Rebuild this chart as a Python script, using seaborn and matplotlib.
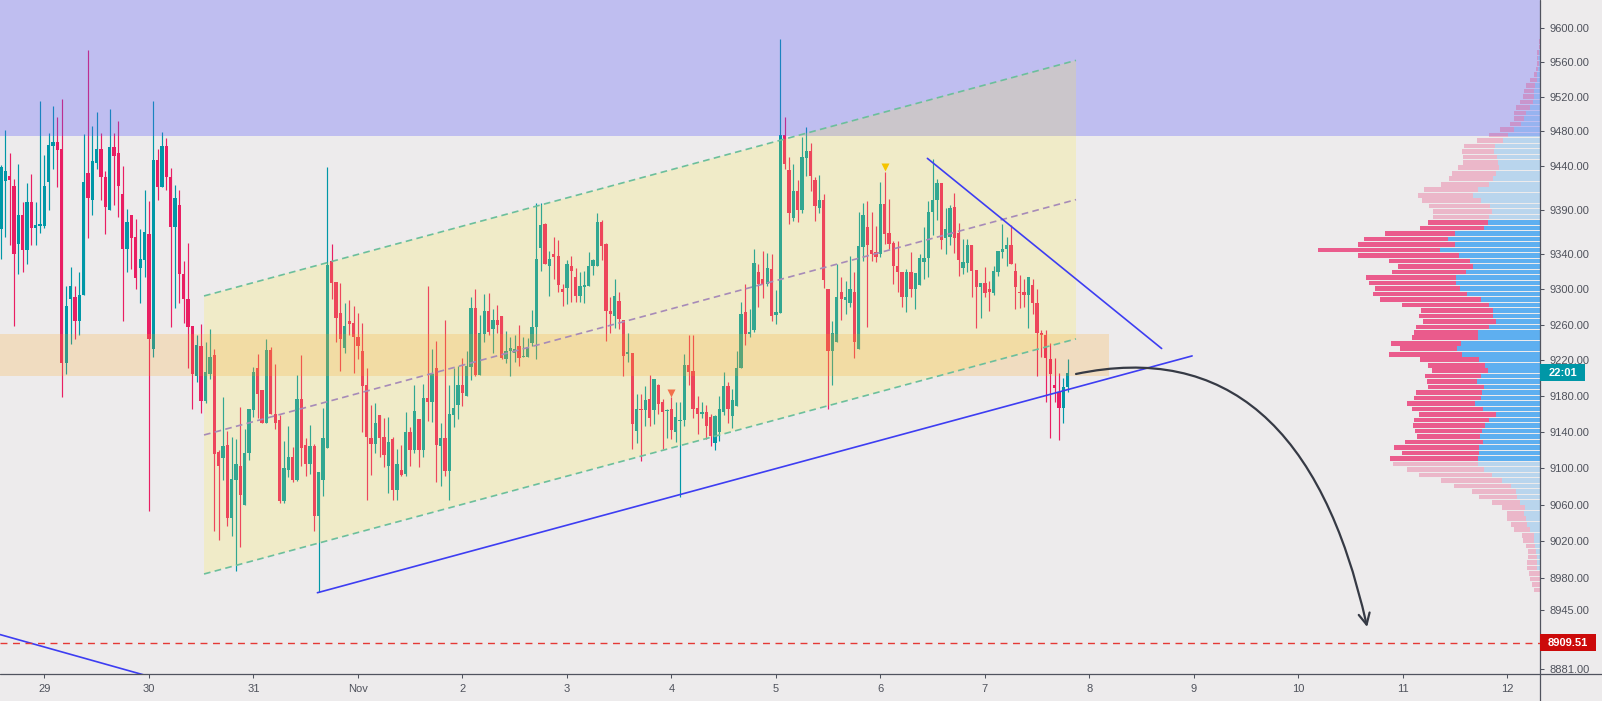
import numpy as np
import pandas as pd
import matplotlib
matplotlib.use("Agg")
import matplotlib.pyplot as plt
import seaborn as sns
from matplotlib.path import Path
from matplotlib.patches import FancyArrowPatch, Polygon, Rectangle
from matplotlib.lines import Line2D
from matplotlib.colors import to_rgba
from matplotlib.ticker import FixedLocator, NullLocator, FixedFormatter

sns.set_theme(style="white")
plt.rcParams["font.family"] = ["Liberation Sans", "DejaVu Sans"]

# ---------------- data (hourly BTC candles, starting 2019-10-28 14:00) ----------------
start = pd.Timestamp("2019-10-28 14:00")

opens = [9368, 9423, 9429, 9417, 9351, 9384, 9344, 9399, 9369, 9372,
         9372, 9422, 9463, 9468, 9460, 9217, 9289, 9291, 9264, 9294,
         9432, 9401, 9444, 9460, 9427, 9390, 9462, 9455, 9408, 9346,
         9384, 9359, 9324, 9333, 9362, 9233, 9447, 9416, 9463, 9428,
         9370, 9396, 9317, 9289, 9259, 9202, 9236, 9175, 9205, 9226,
         9118, 9111, 9126, 9045, 9087, 9103, 9060, 9117, 9165, 9212,
         9187, 9150, 9232, 9160, 9153, 9064, 9098, 9112, 9087, 9177,
         9126, 9105, 9125, 9048, 9087, 9123, 9332, 9308, 9273, 9234,
         9264, 9262, 9246, 9230, 9192, 9134, 9127, 9159, 9135, 9103,
         9132, 9076, 9098, 9094, 9140, 9120, 9155, 9120, 9178, 9174,
         9211, 9125, 9133, 9097, 9159, 9170, 9192, 9180, 9213, 9279,
         9204, 9250, 9276, 9255, 9265, 9270, 9221, 9231, 9228, 9236,
         9224, 9224, 9240, 9257, 9347, 9374, 9326, 9340, 9338, 9300,
         9301, 9326, 9314, 9292, 9303, 9304, 9326, 9326, 9376, 9351,
         9276, 9270, 9287, 9265, 9227, 9228, 9141, 9166, 9165, 9177,
         9165, 9193, 9174, 9163, 9166, 9140, 9152, 9153, 9215, 9208,
         9167, 9160, 9162, 9157, 9128, 9140, 9162, 9191, 9158, 9169,
         9212, 9274, 9250, 9254, 9320, 9312, 9306, 9323, 9271, 9273,
         9476, 9435, 9381, 9412, 9390, 9449, 9457, 9424, 9392, 9401,
         9300, 9230, 9241, 9297, 9288, 9285, 9297, 9233, 9348, 9371,
         9344, 9342, 9340, 9397, 9364, 9352, 9326, 9320, 9291, 9320,
         9300, 9305, 9331, 9335, 9388, 9401, 9421, 9358, 9359, 9393,
         9364, 9324, 9330, 9350, 9322, 9303, 9307, 9300, 9296, 9320,
         9342, 9346, 9350, 9321, 9297, 9297, 9294, 9305, 9285, 9251,
         9249, 9221, 9192, 9185, 9167, 9190]

highs = [9441, 9481, 9455, 9425, 9442, 9399, 9421, 9431, 9399, 9515,
         9453, 9478, 9509, 9496, 9517, 9304, 9325, 9304, 9319, 9477,
         9574, 9486, 9502, 9478, 9434, 9506, 9478, 9492, 9440, 9391,
         9384, 9380, 9368, 9413, 9400, 9515, 9460, 9479, 9472, 9438,
         9418, 9413, 9332, 9352, 9259, 9248, 9261, 9241, 9255, 9233,
         9120, 9179, 9141, 9135, 9132, 9168, 9143, 9166, 9213, 9227,
         9187, 9244, 9235, 9216, 9159, 9130, 9147, 9124, 9204, 9226,
         9133, 9148, 9127, 9096, 9167, 9439, 9351, 9308, 9307, 9285,
         9288, 9281, 9273, 9262, 9211, 9170, 9172, 9159, 9156, 9157,
         9135, 9121, 9126, 9162, 9146, 9192, 9155, 9194, 9304, 9233,
         9242, 9150, 9265, 9192, 9212, 9214, 9223, 9230, 9291, 9300,
         9271, 9295, 9296, 9278, 9282, 9270, 9253, 9246, 9248, 9260,
         9246, 9245, 9277, 9398, 9398, 9375, 9343, 9359, 9356, 9306,
         9333, 9338, 9324, 9320, 9321, 9342, 9334, 9386, 9379, 9352,
         9291, 9311, 9297, 9265, 9251, 9228, 9183, 9182, 9191, 9204,
         9199, 9194, 9177, 9166, 9179, 9173, 9173, 9227, 9249, 9249,
         9180, 9173, 9170, 9160, 9159, 9180, 9207, 9196, 9188, 9230,
         9286, 9306, 9278, 9346, 9328, 9343, 9341, 9340, 9299, 9587,
         9496, 9450, 9442, 9424, 9474, 9485, 9467, 9428, 9430, 9408,
         9300, 9264, 9328, 9314, 9309, 9338, 9320, 9388, 9398, 9400,
         9388, 9372, 9422, 9433, 9402, 9355, 9355, 9320, 9323, 9342,
         9318, 9340, 9371, 9400, 9448, 9425, 9421, 9392, 9396, 9409,
         9375, 9357, 9357, 9350, 9322, 9307, 9325, 9309, 9326, 9343,
         9374, 9359, 9373, 9330, 9316, 9311, 9314, 9311, 9300, 9254,
         9254, 9239, 9223, 9206, 9200, 9222]

lows = [9334, 9359, 9350, 9259, 9317, 9319, 9329, 9350, 9350, 9364,
        9369, 9390, 9437, 9416, 9179, 9205, 9238, 9244, 9248, 9294,
        9358, 9384, 9437, 9401, 9362, 9390, 9395, 9382, 9264, 9319,
        9323, 9300, 9284, 9314, 9053, 9224, 9401, 9416, 9413, 9258,
        9279, 9285, 9262, 9212, 9166, 9196, 9161, 9172, 9199, 9031,
        9021, 9087, 9037, 9026, 8987, 9014, 9060, 9109, 9157, 9156,
        9150, 9150, 9160, 9143, 9062, 9062, 9090, 9085, 9086, 9102,
        9091, 9094, 9031, 8964, 9070, 9123, 9289, 9241, 9208, 9228,
        9248, 9206, 9221, 9140, 9065, 9093, 9117, 9113, 9101, 9073,
        9065, 9065, 9092, 9092, 9102, 9117, 9101, 9112, 9152, 9151,
        9085, 9080, 9091, 9065, 9146, 9155, 9169, 9180, 9198, 9203,
        9204, 9241, 9249, 9228, 9251, 9221, 9217, 9202, 9218, 9214,
        9224, 9224, 9236, 9221, 9321, 9329, 9292, 9311, 9297, 9281,
        9283, 9286, 9286, 9286, 9285, 9304, 9316, 9326, 9333, 9242,
        9251, 9256, 9255, 9202, 9218, 9121, 9128, 9108, 9147, 9147,
        9149, 9160, 9121, 9134, 9132, 9129, 9068, 9147, 9192, 9156,
        9138, 9156, 9132, 9125, 9120, 9130, 9159, 9150, 9145, 9169,
        9212, 9237, 9246, 9252, 9280, 9290, 9304, 9264, 9261, 9273,
        9437, 9374, 9377, 9376, 9387, 9429, 9412, 9377, 9387, 9301,
        9166, 9193, 9241, 9265, 9272, 9280, 9223, 9233, 9332, 9257,
        9332, 9331, 9336, 9351, 9346, 9306, 9297, 9280, 9274, 9291,
        9278, 9305, 9311, 9314, 9361, 9379, 9346, 9340, 9350, 9341,
        9315, 9317, 9320, 9291, 9256, 9268, 9291, 9275, 9293, 9315,
        9335, 9326, 9329, 9278, 9279, 9280, 9256, 9272, 9202, 9224,
        9174, 9133, 9174, 9131, 9150, 9185]

closes = [9439, 9434, 9424, 9340, 9384, 9344, 9399, 9369, 9373, 9374,
          9417, 9464, 9468, 9459, 9217, 9281, 9304, 9264, 9294, 9422,
          9404, 9446, 9460, 9427, 9393, 9462, 9452, 9417, 9345, 9376,
          9358, 9313, 9334, 9365, 9244, 9447, 9416, 9463, 9427, 9370,
          9404, 9317, 9289, 9257, 9205, 9237, 9175, 9207, 9224, 9116,
          9102, 9125, 9045, 9088, 9105, 9071, 9117, 9166, 9207, 9183,
          9150, 9232, 9160, 9150, 9064, 9100, 9112, 9087, 9177, 9123,
          9105, 9125, 9048, 9096, 9133, 9327, 9307, 9268, 9244, 9259,
          9261, 9246, 9236, 9191, 9135, 9127, 9150, 9134, 9115, 9129,
          9076, 9105, 9093, 9140, 9120, 9163, 9120, 9178, 9173, 9205,
          9126, 9133, 9097, 9160, 9167, 9192, 9184, 9214, 9279, 9204,
          9251, 9276, 9252, 9265, 9260, 9223, 9231, 9234, 9233, 9223,
          9225, 9235, 9258, 9334, 9373, 9329, 9334, 9337, 9305, 9297,
          9328, 9321, 9292, 9304, 9305, 9326, 9333, 9376, 9349, 9275,
          9272, 9292, 9266, 9225, 9229, 9149, 9166, 9165, 9176, 9156,
          9199, 9171, 9162, 9164, 9142, 9157, 9153, 9215, 9207, 9166,
          9160, 9162, 9147, 9136, 9158, 9166, 9191, 9166, 9176, 9212,
          9272, 9250, 9252, 9330, 9306, 9306, 9324, 9270, 9274, 9476,
          9442, 9387, 9412, 9390, 9450, 9457, 9429, 9394, 9401, 9310,
          9230, 9251, 9291, 9289, 9291, 9300, 9241, 9349, 9384, 9350,
          9340, 9337, 9397, 9363, 9351, 9326, 9320, 9291, 9320, 9300,
          9318, 9335, 9335, 9388, 9401, 9421, 9356, 9368, 9392, 9358,
          9333, 9331, 9350, 9321, 9303, 9307, 9296, 9297, 9321, 9343,
          9346, 9350, 9329, 9302, 9296, 9294, 9314, 9284, 9251, 9248,
          9223, 9205, 9189, 9167, 9190, 9206]

# volume profile rows (top -> bottom), up / down volume (relative units)
vp_up = [0, 0, 3, 5, 4, 5, 9, 9, 15, 17,
         17, 22, 29, 41, 47, 57, 77, 95, 112, 134,
         139, 129, 125, 124, 132, 142, 152, 187, 200, 177,
         151, 144, 152, 155, 167, 255, 275, 255, 299, 244,
         209, 201, 222, 253, 252, 239, 219, 177, 154, 142,
         140, 131, 154, 186, 186, 238, 249, 234, 184, 165,
         157, 178, 189, 169, 173, 176, 194, 172, 131, 153,
         165, 173, 180, 172, 184, 182, 187, 187, 167, 144,
         115, 87, 71, 69, 59, 46, 48, 42, 39, 30,
         17, 17, 15, 11, 9, 9, 9, 0, 0, 0, 0]
vp_down = [4, 4, 6, 4, 5, 6, 8, 21, 27, 30,
           34, 38, 43, 38, 30, 34, 42, 57, 77, 93,
           95, 101, 105, 122, 131, 131, 145, 162, 167, 178,
           182, 176, 170, 181, 194, 210, 252, 292, 367, 301,
           245, 226, 223, 268, 260, 256, 281, 302, 259, 215,
           224, 221, 219, 192, 199, 209, 172, 218, 177, 172,
           167, 168, 150, 167, 199, 202, 205, 211, 232, 225,
           215, 202, 189, 233, 253, 232, 263, 254, 231, 219,
           183, 170, 134, 114, 85, 69, 52, 58, 49, 47,
           38, 35, 26, 24, 28, 30, 30, 33, 31, 25, 19]
vp_row_top_price = 9583.7
vp_row_bottom_price = 8966.5
va_first_row, va_last_row = 33, 76

# drawings (bar offsets in hours from start, prices)
supply_low = 9474.6
demand_zone = (9202.6, 9249.3)
demand_zone_end = 254.6
chan_t = [46.66, 246.93]
chan_upper = [9292.4, 9562.0]
chan_lower = [8984.0, 9244.1]
support_t, support_p = [72.7, 273.6], [8963.6, 9225.0]
resist_t, resist_p = [212.8, 266.6], [9448.9, 9233.3]
old_t, old_p = [-0.2, 40.0], [8918.2, 8865.2]
target_price = 8909.51
arrow_t = [246.93, 298.4, 313.8]
arrow_p = [9204.8, 9257.4, 8926.4]
marker_red = (154, 9184.0)
marker_yellow = (203, 9438.7)
countdown = "22:01"

price_ticks = [9600, 9560, 9520, 9480, 9440, 9390, 9340, 9300, 9260, 9220,
               9180, 9140, 9100, 9060, 9020, 8980, 8945, 8881]
day_labels = ["29", "30", "31", "Nov", "2", "3", "4", "5", "6", "7", "8", "9",
              "10", "11", "12"]
days = pd.date_range("2019-10-29", periods=len(day_labels), freq="D")

# ---------------- styling ----------------
BG = "#edebec"
AX = "#50535e"
TXT = "#4f525c"
UP = "#0097a7"
DN = "#e91e63"

W, H = 1602, 701
fig = plt.figure(figsize=(W / 100, H / 100), dpi=100, facecolor=BG)
ax = fig.add_axes([0, 27 / H, 1540 / W, 674 / H])
ax.set_facecolor(BG)
ax.set_yscale("log")
for s in ax.spines.values():
    s.set_visible(False)

o = np.array(opens, float)
c = np.array(closes, float)
h = np.array(highs, float)
l = np.array(lows, float)
xs = np.arange(len(o))
col = np.where(c >= o, UP, DN)

# candles
ax.vlines(xs, l, h, colors=col, lw=0.85, zorder=2)
ax.bar(xs, np.maximum(np.abs(c - o), 1.2), bottom=np.minimum(o, c), width=0.76,
       color=col, lw=0, zorder=2.1)
ax.plot(*marker_red, marker="v", ms=6, color="#ef5350", mec="none", zorder=2.5)

# supply zone (purple)
ax.axhspan(supply_low, 9800, color="#5758fc", alpha=0.3, lw=0, zorder=3)

# channel
chan_mid = list(np.sqrt(np.array(chan_upper) * np.array(chan_lower)))
ax.add_patch(Polygon([(chan_t[0], chan_upper[0]), (chan_t[1], chan_upper[1]),
                      (chan_t[1], chan_lower[1]), (chan_t[0], chan_lower[0])],
                     closed=True, fc=(1.0, 0.92, 0.23, 0.2), ec="none", zorder=5))
# demand zone (orange)
ax.add_patch(Rectangle((-5, demand_zone[0]), demand_zone_end + 5,
                       demand_zone[1] - demand_zone[0],
                       fc=(1.0, 0.63, 0.08, 0.2), ec="none", zorder=6))

ln = ax.plot(chan_t, chan_upper, color="#6cbf9c", lw=1.2, zorder=7)[0]
ln.set_dashes((4, 2.6))
ln = ax.plot(chan_t, chan_lower, color="#6cbf9c", lw=1.2, zorder=7)[0]
ln.set_dashes((4, 2.6))
ln = ax.plot(chan_t, chan_mid, color="#a78bb8", lw=1.2, zorder=7)[0]
ln.set_dashes((4, 2.6))

# trend lines with seaborn
for tt, pp in [(support_t, support_p), (resist_t, resist_p), (old_t, old_p)]:
    sns.lineplot(x=tt, y=pp, ax=ax, color="#3d3df2", lw=1.2, zorder=8)

ax.axhline(target_price, color="#e53935", lw=1.0, ls=(0, (5, 4)), zorder=8)
ax.plot(*marker_yellow, marker="v", ms=6, color="#f5c400", mec="none", zorder=9)

arrow = FancyArrowPatch(path=Path(list(zip(arrow_t, arrow_p)),
                                  [Path.MOVETO, Path.CURVE3, Path.CURVE3]),
                        arrowstyle="->,head_length=8,head_width=4",
                        mutation_scale=1, color="#363a45", lw=1.6,
                        transform=ax.transData, zorder=9)
ax.add_patch(arrow)

# axes limits / ticks
ax.set_xlim(-0.2, 353.5)
ax.set_ylim(8875.6, 9632.3)
ax.yaxis.set_major_locator(FixedLocator(price_ticks))
ax.yaxis.set_major_formatter(FixedFormatter([f"{p:.2f}" for p in price_ticks]))
ax.yaxis.set_minor_locator(NullLocator())
day_pos = [(d - start) / pd.Timedelta(hours=1) for d in days]
ax.xaxis.set_major_locator(FixedLocator(day_pos))
ax.xaxis.set_major_formatter(FixedFormatter(day_labels))
ax.xaxis.set_minor_locator(NullLocator())
ax.tick_params(axis="y", which="major", right=True, left=False, labelright=True,
               labelleft=False, direction="out", length=3, width=0.75, color=AX,
               pad=3.5, labelsize=8, labelcolor=TXT)
ax.tick_params(axis="x", which="major", bottom=True, direction="out", length=3,
               width=0.75, color=AX, pad=4, labelsize=8, labelcolor=TXT)
ax.set_xlabel("")
ax.set_ylabel("")
ax.grid(False)

# volume profile on a twin axis growing leftwards from the price scale
ax_vp = ax.twiny()
ax_vp.axis("off")
ax_vp.set_xlim(1540 * 3, 0)
n_rows = len(vp_up)
centers = np.geomspace(vp_row_top_price, vp_row_bottom_price, n_rows)
step = np.log(vp_row_top_price / vp_row_bottom_price) / (n_rows - 1)
bot = centers * np.exp(-0.42 * step)
top = centers * np.exp(0.42 * step)
rows = np.arange(n_rows)
in_va = (rows >= va_first_row) & (rows <= va_last_row)
up_cols = [to_rgba("#2196f3", 0.7 if v else 0.25) for v in in_va]
dn_cols = [to_rgba("#e91e63", 0.7 if v else 0.25) for v in in_va]
ax_vp.barh(bot, vp_up, height=top - bot, left=0, align="edge", color=up_cols, lw=0)
ax_vp.barh(bot, vp_down, height=top - bot, left=vp_up, align="edge", color=dn_cols, lw=0)
ax_vp.set_ylim(8875.6, 9632.3)

# frame lines of the price / time scales
fig.add_artist(Line2D([0, 1], [27 / H, 27 / H], transform=fig.transFigure, color=AX, lw=0.9))
fig.add_artist(Line2D([1540 / W, 1540 / W], [0, 1], transform=fig.transFigure, color=AX, lw=0.9))

# price labels on the scale
fig.canvas.draw()


def scale_label(price, text, fc, width):
    yd = ax.transData.transform((0, price))[1]
    fig.add_artist(Rectangle((1540 / W, (yd - 8.5) / H), width / W, 17 / H,
                             transform=fig.transFigure, fc=fc, ec="none", zorder=10))
    fig.text((1540 + width / 2) / W, yd / H, text, ha="center", va="center",
             color="white", fontsize=8, fontweight="bold", zorder=11)


scale_label(closes[-1], countdown, "#0097a7", 45)
scale_label(target_price, f"{target_price:.2f}", "#cc0a0a", 56)

fig.savefig("out.png", dpi=100, facecolor=BG)
